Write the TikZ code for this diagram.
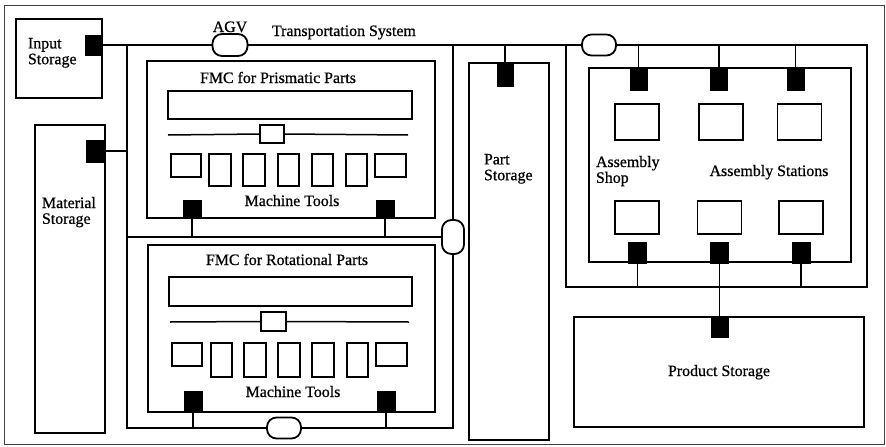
\documentclass[tikz,border=0pt]{standalone}
\usepackage{fontspec}
\setmainfont{Liberation Serif}
\newfontfamily\labelfont{Liberation Serif}[FakeBold=0.7]
\begin{document}
\begin{tikzpicture}[x=1pt,y=-1pt,
  every node/.style={inner sep=0pt, outer sep=0pt},
  frame/.style={draw=black!75, line width=1pt},
  box/.style={draw, line width=1.2pt},
  tool/.style={draw, line width=1.1pt},
  port/.style={fill=black, draw=black, line width=0.4pt},
  agv/.style={draw, fill=white, line width=1.8pt, rounded corners=9.5pt},
  bus/.style={line width=2.2pt},
  link/.style={line width=1.6pt},
  rail/.style={line width=1.5pt},
  lbl/.style={font=\labelfont\fontsize{15.9}{15.8}\selectfont}]

\useasboundingbox (0,0) rectangle (886,447);
\draw[frame] (4,5) rectangle (884,444);

% ---------- storages and cells ----------
\node[box, minimum width=86, minimum height=79]  (input)   at (59,58.5) {};
\node[box, minimum width=70, minimum height=308] (material) at (70,279) {};
\node[box, minimum width=288, minimum height=157] (fmcP)   at (291,139.5) {};
\node[box, minimum width=287, minimum height=167] (fmcR)   at (291.5,328.5) {};
\node[box, minimum width=80, minimum height=377] (part)    at (509,251.5) {};
\node[box, minimum width=262, minimum height=194] (shop)   at (720,165) {};
\node[box, minimum width=290, minimum height=110] (product) at (719,372) {};

% ---------- ports ----------
\node[port, minimum width=16, minimum height=20] (inP)  at (93,45) {};
\node[port, minimum width=18, minimum height=22] (matP) at (95,151) {};
\node[port, minimum width=18, minimum height=18] (pP1)  at (192,209) {};
\node[port, minimum width=18, minimum height=18] (pP2)  at (385,209) {};
\node[port, minimum width=18, minimum height=21] (rP1)  at (193,401.5) {};
\node[port, minimum width=18, minimum height=21] (rP2)  at (386,401.5) {};
\node[port, minimum width=16, minimum height=22] (partP) at (505,75) {};
\node[port, minimum width=17, minimum height=22] (sT1) at (638.5,79) {};
\node[port, minimum width=17, minimum height=22] (sT2) at (719,79) {};
\node[port, minimum width=17, minimum height=22] (sT3) at (795.5,79) {};
\node[port, minimum width=18, minimum height=21] (sB1) at (637.5,252.5) {};
\node[port, minimum width=18, minimum height=21] (sB2) at (719.5,252.5) {};
\node[port, minimum width=18, minimum height=21] (sB3) at (801,252.5) {};
\node[port, minimum width=17, minimum height=20] (prodP) at (719.5,327) {};

% ---------- FMC for prismatic parts ----------
\node[tool, minimum width=244, minimum height=28] (bufP) at (290,105) {};
\node[tool, minimum width=24, minimum height=18] (carP) at (272,134) {};
\coordinate (railPL) at (168,135);
\coordinate (railPR) at (408,135);
\draw[rail] (railPL) -- (carP.west);
\draw[rail] (carP.east) -- (railPR);
\foreach \n/\x/\y/\w/\h in {1/186/165.5/30/23, 2/220/170/22/32, 3/254/170/22/32,
    4/288.5/170/21/32, 5/322.5/170/21/32, 6/356.5/170/21/32, 7/390.5/165.5/31/23}
  \node[tool, minimum width=\w, minimum height=\h] (tp\n) at (\x,\y) {};

% ---------- FMC for rotational parts ----------
\node[tool, minimum width=243, minimum height=29] (bufR) at (290.5,291.5) {};
\node[tool, minimum width=25, minimum height=19] (carR) at (273.5,321.5) {};
\coordinate (railRL) at (170,322);
\coordinate (railRR) at (409,322);
\draw[rail] (railRL) -- (carR.west);
\draw[rail] (carR.east) -- (railRR);
\foreach \n/\x/\y/\w/\h in {1/187/354.5/30/23, 2/221.5/360/21/34, 3/255/360/22/34,
    4/289/360/22/34, 5/323/360/22/34, 6/357.5/360/21/34, 7/391.5/354.5/31/23}
  \node[tool, minimum width=\w, minimum height=\h] (tr\n) at (\x,\y) {};

% ---------- assembly stations ----------
\foreach \n/\x in {1/637, 2/721, 3/799.5}
  \node[tool, minimum width=44, minimum height=36] (stT\n) at (\x,122) {};
\foreach \n/\x in {1/637, 2/719.5, 3/801}
  \node[tool, minimum width=44, minimum height=33] (stB\n) at (\x,217.5) {};

% ---------- AGVs ----------
\node[agv, minimum width=35, minimum height=22] (agv1) at (230,45) {};
\node[agv, minimum width=34, minimum height=21] (agv2) at (599,45) {};
\node[agv, minimum width=22, minimum height=34] (agv3) at (453,237) {};
\node[agv, minimum width=34, minimum height=21] (agv4) at (284,428) {};

% ---------- transportation system ----------
\coordinate (jIn)  at (127,45);
\coordinate (jMid) at (127,237);
\coordinate (jBot) at (127,428);
\coordinate (jBR)  at (453,428);
\coordinate (jTR)  at (453,45);
\coordinate (aTL)  at (566,45);
\coordinate (aTR)  at (867,45);
\coordinate (aBR)  at (867,287);
\coordinate (aBL)  at (566,287);

\draw[bus] (inP.east) -- (agv1.west);
\draw[bus] (agv1.east) -- (agv2.west);
\draw[bus] (agv2.east) -- (aTR) -- (aBR) -- (aBL) -- (aTL);
\draw[bus] (jIn) -- (jBot) -- (agv4.west);
\draw[bus] (agv4.east) -- (jBR) -- (agv3.south);
\draw[bus] (agv3.north) -- (jTR);
\draw[bus] (jMid) -- (agv3.west);

% feeders from the ports to the system
\draw[link] (matP.east) -- (matP.east -| jIn);
\draw[link] (pP1.south) -- (pP1.south |- jMid);
\draw[link] (pP2.south) -- (pP2.south |- jMid);
\draw[link] (rP1.south) -- (rP1.south |- jBot);
\draw[link] (rP2.south) -- (rP2.south |- jBot);
\draw[link] (partP.north) -- (partP.north |- jTR);
\draw[link] (sT1.north) -- (sT1.north |- aTR);
\draw[link] (sT2.north) -- (sT2.north |- aTR);
\draw[link] (sT3.north) -- (sT3.north |- aTR);
\draw[link] (sB1.south) -- (sB1.south |- aBR);
\draw[link] (sB3.south) -- (sB3.south |- aBR);
\draw[link] (sB2.south) -- (prodP.north);

% ---------- labels ----------
\node[lbl, anchor=base] (tAGV) at (230,32) {AGV};
\node[lbl, anchor=base west] (tTS) at (272,36) {Transportation System};
\node[lbl, anchor=north west, align=left] (tIn) at (28,38) {Input\\Storage};
\node[lbl, anchor=north west, align=left] (tMat) at (42,197) {Material\\Storage};
\node[lbl, anchor=base] (tFP) at (278,83) {FMC for Prismatic Parts};
\node[lbl, anchor=base] (tMP) at (292,206) {Machine Tools};
\node[lbl, anchor=base] (tFR) at (287,265) {FMC for Rotational Parts};
\node[lbl, anchor=base] (tMR) at (293,397) {Machine Tools};
\node[lbl, anchor=north west, align=left] (tPart) at (484,154) {Part\\Storage};
\node[lbl, anchor=north west, align=left] (tShop) at (596,156) {Assembly\\Shop};
\node[lbl, anchor=base] (tSt) at (769,176) {Assembly Stations};
\node[lbl, anchor=base] (tProd) at (719,376) {Product Storage};
\end{tikzpicture}
\end{document}
